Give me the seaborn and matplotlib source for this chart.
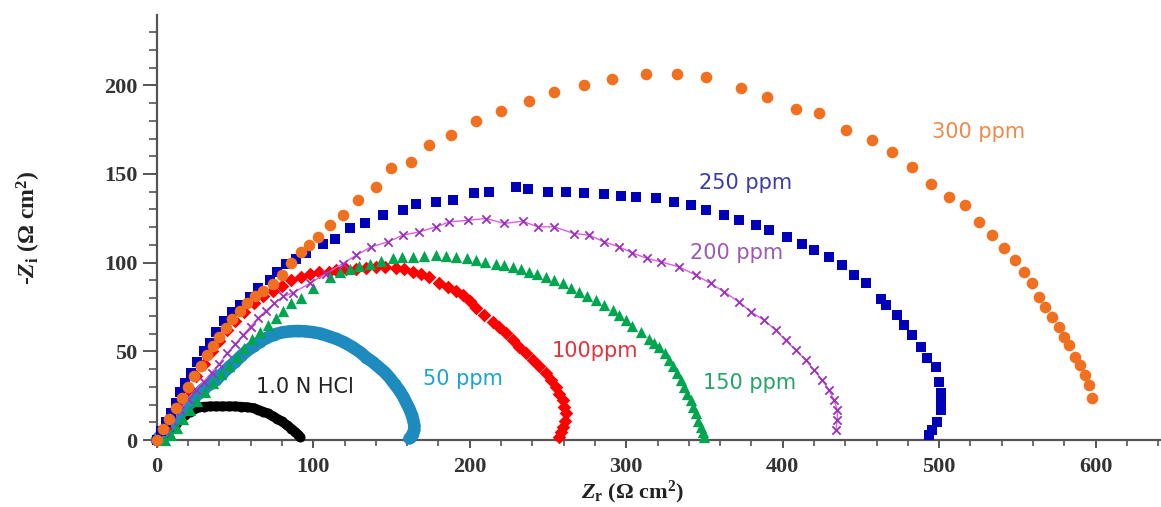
import matplotlib
matplotlib.use("Agg")
import matplotlib.pyplot as plt
import seaborn as sns
import pandas as pd
from matplotlib.ticker import MultipleLocator

# ---------------- data ----------------
hcl_x = [0, 3, 6, 9, 12, 15, 18, 21, 24, 27, 30, 34, 38, 42, 46, 50, 54, 58, 62, 65,
         68, 71, 74, 77, 80, 83, 86, 88.5, 90.5, 91.5]
hcl_y = [0, 2, 4, 6.5, 9, 11.5, 14, 16, 17.5, 18.5, 18.8, 19, 19, 19, 19, 19, 18.8, 18.5, 18, 17,
         16, 15, 13.5, 12, 10.5, 8.5, 6.5, 4.5, 3, 2]

p50_x = [0, 3, 6, 9, 12, 15, 18, 21, 24, 27, 30, 34, 38, 42, 46, 50, 54, 58, 62, 66,
         70, 75, 80, 85, 90, 95, 100, 105, 110, 115, 120, 125, 130, 134, 138, 142, 146, 149,
         152, 155, 157.5, 159.5, 161.5, 163, 164, 164.7, 164.5, 163.5, 162.5, 161.5]
p50_y = [0, 3, 6, 9, 12, 15, 18, 21, 24, 26.5, 29, 31.5, 34, 37.5, 41, 44, 47.5, 50.5, 53, 55.5,
         57.5, 59.5, 60.7, 61.3, 61.5, 61.3, 60.8, 60, 58.5, 57, 55, 52.5, 49.5, 46.5, 44, 41, 38, 35,
         31.5, 28, 24.5, 21, 17.5, 14, 11, 8, 5.5, 3.5, 1.8, 0.9]

p100_x = [0, 5, 10, 15, 20, 25, 30, 35, 40, 45, 50, 56, 62, 68, 74, 80, 86, 92, 98, 104,
          110, 114.7, 121, 127.5, 134, 140, 146, 153, 158, 163.6, 169, 174.3, 180.6, 186, 191,
          195.5, 200, 204.1, 209, 214.7, 219, 223.2, 227.5, 231.7, 236, 240.2, 244.5, 248.7, 252,
          255.1, 257.3, 259.3, 260.5, 261.5, 260.8, 259.3, 258.3, 257.2]
p100_y = [0, 7, 15, 22, 29, 36, 43, 50, 56, 62, 67, 72, 77, 81, 84, 87, 90, 92, 93.5, 94.5,
          95, 95.8, 96.3, 96.7, 97.2, 97.5, 97.6, 97.2, 96.3, 94.8, 93.5, 92, 88.8, 86.4, 84,
          81.5, 78.5, 74.2, 70.5, 66.6, 63.5, 60.1, 56.5, 52.6, 49, 45.1, 41.5, 37.6, 34,
          30, 26, 22.5, 18.5, 15, 11, 7.5, 4.5, 1.9]

p150_x = [5, 9, 13, 17, 21, 26, 31, 36, 41, 46, 51, 56, 61, 66, 71, 76, 81, 86, 92, 100,
          110.4, 117, 123.2, 129.5, 136, 143, 150.8, 157, 163.6, 171, 178.5, 185, 191.3, 198,
          204.1, 210, 216.8, 222, 227.4, 233, 238.1, 243, 248.7, 254, 259.3, 265, 270, 275,
          280.6, 286, 291.3, 295.5, 299.8, 304, 309.4, 314.7, 318, 321.1, 324.5, 327.4, 330,
          332.7, 335, 337, 339, 341.3, 343, 344.5, 346, 347.7, 349, 349.8]
p150_y = [0, 3, 7, 12, 17, 22, 27, 32, 37, 42, 47, 52, 57, 61, 65, 69, 73, 77, 80, 86,
          92, 94.5, 96.7, 98.2, 99.5, 101, 102.4, 103, 103.3, 104, 104.2, 103.8, 103.3, 102.5,
          101.4, 100.5, 99.5, 98.5, 97.6, 96.3, 94.8, 93.5, 92, 90.3, 88.3, 86, 83.5, 81.3,
          78.9, 76, 73.2, 70.5, 67.6, 64.5, 61, 57, 54.5, 52.6, 49, 45.1, 41.5,
          37.6, 34, 30, 26, 22.5, 18.5, 15, 11, 7.5, 4.5, 1.9]

p200_x = [0, 5, 10, 15, 20, 25, 30, 35, 40, 45, 50, 55, 60, 65, 70, 75, 81,
          87, 97.7, 108.3, 118.9, 127.5, 137, 147.7, 157.2, 167.9, 178.5, 187, 198.7, 210.4,
          222.1, 233.8, 243.4, 254, 266.8, 276.4, 286, 295.5, 304, 313, 322, 333.8, 344.5,
          354, 362.5, 372.1, 379.6, 388.1, 395.5, 401.9, 408.3, 414.7, 420, 425.3, 429.6,
          432.8, 434.9, 434.9, 433.9]
p200_y = [0, 5, 11, 17, 23, 28, 33, 38, 43, 49, 54, 59, 64, 69, 73, 77, 81,
          83, 88.3, 93.9, 99.5, 104.2, 108.9, 111.7, 115.5, 117.4, 120.2, 123, 123.9, 124.9,
          122.1, 123.4, 120.2, 120.2, 116.4, 115.5, 111.7, 108.9, 105.5, 102.5, 100.5, 97.6, 93,
          88.3, 83.5, 77.9, 72.3, 67.6, 62, 56.3, 50.7, 45.1, 39.4, 33.8, 28.2,
          22.5, 16.9, 11.3, 5.6]

p250_x = [0, 3, 6, 9, 12, 15, 18, 22, 26, 30, 34, 38, 43, 48, 53,
          59.4, 65, 72.1, 77, 82.8, 89, 95.5, 106.2, 113.6, 123.2, 132.8, 144.5, 157.2, 165.8,
          178.5, 189.1, 203, 212.5, 229.6, 237, 249.8, 261.5, 273.2, 286, 296.6, 306.2, 318.9,
          330.6, 341.3, 350.9, 362.5, 372.1, 382.8, 391.3, 403, 412.5, 420, 429.6, 438.1, 445.5,
          453, 462.6, 465.7, 473.2, 477.4, 482.7, 488.1, 492.3, 497.7, 499.8, 500.9, 501, 500.9,
          498.7, 495.5, 493.4]
p250_y = [0, 5, 10, 15, 21, 27, 32, 38, 44, 50, 55, 61, 67, 72, 76,
          80.7, 86, 90.1, 95, 99.5, 102, 105.2, 110.8, 113.1, 119.3, 122.1, 126.8, 129.6, 133,
          134.3, 135.6, 139, 139.9, 142.7, 141.8, 139.9, 139.9, 139.3, 138.6, 137.5, 137.1, 136.2,
          134.3, 132.4, 129.6, 126.8, 123.9, 121.1, 118.3, 114.5, 110.8, 107, 103.3, 98.6, 93,
          88.3, 79.8, 76.1, 70.4, 64.8, 59.2, 52.6, 46, 41.3, 32.8, 26.3, 21.5, 16.9,
          10.3, 5.6, 2.8]

p300_x = [0, 4, 8, 12, 16, 20, 24, 28, 32, 36, 40, 44, 48, 53, 58, 63, 68, 74, 80, 86, 92, 97,
          103, 110.4, 118.9, 128.5, 140.2, 149.8, 162.6, 174.3, 188.1, 204.1,
          220, 238.1, 254, 273.2, 291.2, 312.6, 332.7, 350.9, 373.2, 390.2,
          408.3, 423.2, 440.2, 457.2, 470, 482.7, 494.5, 506.2, 516.8, 525.3,
          533.8, 541.3, 548.7, 554, 559.3, 563.6, 567.9, 572.1, 576.4, 579.6,
          582.8, 587, 590.2, 593.4, 595.5, 597.6]
p300_y = [0, 6, 12, 18, 24, 30, 36, 42, 48, 53, 58, 63, 68, 73, 77, 81, 84, 88, 93, 100, 106, 110,
          114.5, 121.1, 126.8, 135.2, 142.7, 153.1, 156.8, 166.2, 171.8, 179.9,
          185.5, 191.2, 196.2, 200, 203.8, 206.6, 206.6, 204.7, 198.7, 193.4,
          186.9, 184.1, 174.6, 169.4, 162.4, 154, 144.6, 137.1, 132.4, 123,
          115.5, 108, 101.4, 94.8, 88.7, 80.7, 75.1, 69.5, 63.8, 58.2,
          53.5, 46.9, 42.3, 36.6, 31, 23.5]

labels = ["1.0 N HCl", "50 ppm", "100ppm", "150 ppm", "200 ppm", "250 ppm", "300 ppm"]
label_x = [94.5, 195.6, 280.0, 378.9, 370.4, 376.4, 525.3]
label_y = [30.0, 34.7, 50.3, 31.9, 105.7, 145.0, 173.7]

x_ticks = [0, 100, 200, 300, 400, 500, 600]
y_ticks = [0, 50, 100, 150, 200]

# ---------------- styling ----------------
sns.set_theme(style="white")
plt.rcParams["font.family"] = ["Liberation Serif", "DejaVu Serif"]
plt.rcParams["mathtext.fontset"] = "custom"
plt.rcParams["mathtext.rm"] = "Liberation Serif:bold"
plt.rcParams["mathtext.it"] = "Liberation Serif:bold:italic"
plt.rcParams["mathtext.bf"] = "Liberation Serif:bold"

fig = plt.figure(figsize=(11.61, 5.07), dpi=100)
ax = fig.add_axes([0.135, 0.132, 0.864, 0.838])

series = [
    # x, y, marker color, marker, size(pt^2), band line width, line color, label color
    (hcl_x, hcl_y, "#000000", "o", 52, 7, "#000000", "#222222"),
    (p50_x, p50_y, "#1E8BBF", "o", 72, 9, "#1E8BBF", "#1AA3D4"),
    (p100_x, p100_y, "#FF0000", "D", 48, 0, None, "#E8303A"),
    (p150_x, p150_y, "#00A550", "^", 66, 0, None, "#22A565"),
    (p200_x, p200_y, "#9933BB", "x", 36, 1.0, "#E060E0", "#9B5AB5"),
    (p250_x, p250_y, "#0000BB", "s", 48, 0, None, "#3B3BAE"),
    (p300_x, p300_y, "#F07020", "o", 70, 0, None, "#F08A4A"),
]

for i, (xs, ys, col, mk, sz, lw, lcol, _) in enumerate(series):
    df = pd.DataFrame({"x": xs, "y": ys})
    if lw > 0:
        sns.lineplot(data=df, x="x", y="y", sort=False, estimator=None, ax=ax,
                     color=lcol, linewidth=lw, zorder=2 + 2 * i, clip_on=False)
    if mk == "x":
        sns.scatterplot(data=df, x="x", y="y", ax=ax, marker=mk, s=sz, color=col,
                        linewidth=1.3, zorder=3 + 2 * i, clip_on=False)
    else:
        sns.scatterplot(data=df, x="x", y="y", ax=ax, marker=mk, s=sz, color=col,
                        edgecolor=col, linewidth=0, zorder=3 + 2 * i, clip_on=False)

for (lab, lx, ly, s) in zip(labels, label_x, label_y, series):
    ax.text(lx, ly, lab, color=s[7], ha="center", va="center", fontsize=15,
            family=["DejaVu Sans"], zorder=20)

ax.set_xlim(0, 641)
ax.set_ylim(0, 239.5)
ax.set_xticks(x_ticks)
ax.set_yticks(y_ticks)
ax.xaxis.set_minor_locator(MultipleLocator(20))
ax.yaxis.set_minor_locator(MultipleLocator(10))

for side in ["top", "right"]:
    ax.spines[side].set_visible(False)
for side in ["left", "bottom"]:
    ax.spines[side].set_color("#555555")
    ax.spines[side].set_linewidth(1.6)

ax.tick_params(axis="y", which="major", direction="out", length=10, width=1.4,
               color="#555555", left=True, labelsize=16, pad=4)
ax.tick_params(axis="y", which="minor", direction="out", length=6, width=1.2,
               color="#555555", left=True)
ax.tick_params(axis="x", which="major", direction="out", length=6, width=1.4,
               color="#555555", bottom=True, labelsize=16, pad=6)
ax.tick_params(axis="x", which="minor", direction="out", length=4, width=1.2,
               color="#555555", bottom=True)
for lab in ax.get_xticklabels() + ax.get_yticklabels():
    lab.set_fontweight("bold")
    lab.set_color("#333333")

ax.set_xlabel(r"$Z_\mathrm{r}$ (Ω cm$^\mathrm{2}$)", fontsize=16, fontweight="bold",
              color="#222222")
ax.set_ylabel(r"-$Z_\mathrm{i}$ (Ω cm$^\mathrm{2}$)", fontsize=17, fontweight="bold",
              color="#222222")
ax.xaxis.set_label_coords(0.474, -0.122)
ax.xaxis.label.set_va("center")
ax.yaxis.set_label_coords(-0.127, 0.499)
ax.yaxis.label.set_va("center")
ax.grid(False)

fig.savefig("out.png", dpi=100)
